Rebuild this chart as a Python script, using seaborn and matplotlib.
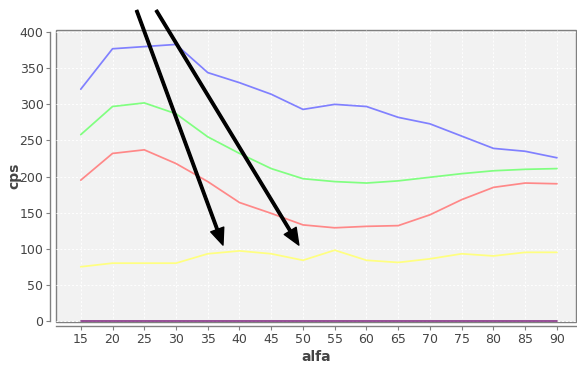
import matplotlib
matplotlib.use("Agg")
import matplotlib.pyplot as plt
import seaborn as sns
import pandas as pd

# Angle values (alfa) and counts per second for each measured series
alfa = [15, 20, 25, 30, 35, 40, 45, 50, 55, 60, 65, 70, 75, 80, 85, 90]
series_blue = [321, 377, 380, 383, 344, 330, 314, 293, 300, 297, 282, 273, 256, 239, 235, 226]
series_green = [258, 297, 302, 287, 255, 232, 211, 197, 193, 191, 194, 199, 204, 208, 210, 211]
series_red = [195, 232, 237, 218, 193, 164, 149, 133, 129, 131, 132, 147, 168, 185, 191, 190]
series_yellow = [75, 80, 80, 80, 93, 97, 93, 84, 98, 84, 81, 86, 93, 90, 95, 95]
series_zero = [0] * 16

series_names = ["A", "B", "C", "D", "E"]
series_colors = ["#8080ff", "#80ff80", "#ff8888", "#ffff80", "#8a3a8a"]

y_ticks = [0, 50, 100, 150, 200, 250, 300, 350, 400]

# Arrow annotations: (start x, start y, tip x, tip y) in data units
arrow_starts = [(23.8, 430), (26.9, 430)]
arrow_tips = [(37.4, 105), (49.35, 105)]

frames = []
for name, vals in zip(series_names,
                      [series_blue, series_green, series_red, series_yellow, series_zero]):
    frames.append(pd.DataFrame({"alfa": alfa, "cps": vals, "series": name}))
df = pd.concat(frames, ignore_index=True)

sns.set_theme(style="white")
plt.rcParams["font.family"] = ["DejaVu Sans"]

fig = plt.figure(figsize=(5.77, 3.65), dpi=100)
ax = fig.add_axes([56 / 577, 43 / 365, 520 / 577, 292 / 365])
ax.set_facecolor("#f2f2f2")
ax.patch.set_edgecolor("#808080")
ax.patch.set_linewidth(1.0)

sns.lineplot(data=df, x="alfa", y="cps", hue="series", hue_order=series_names,
             palette=series_colors, linewidth=1.25, legend=False, ax=ax)

ax.set_xlim(11.1, 93.0)
ax.set_ylim(-1.5, 403)
ax.set_xticks(alfa)
ax.set_yticks(y_ticks)

ax.grid(True, color="white", linestyle=(0, (2, 2)), linewidth=0.7)
ax.set_axisbelow(True)

for side in ["top", "right"]:
    ax.spines[side].set_visible(False)
ax.spines["left"].set_position(("outward", 4))
ax.spines["bottom"].set_position(("outward", 3))
for side in ["left", "bottom"]:
    ax.spines[side].set_color("#808080")
    ax.spines[side].set_linewidth(1.0)
ax.spines["left"].set_bounds(0, 400)

ax.tick_params(axis="both", which="both", direction="out", length=3, width=0.8,
               color="#808080", labelsize=9, labelcolor="#444444",
               left=True, bottom=True, pad=2)

ax.set_xlabel("alfa", fontsize=10, fontweight="bold", color="#444444", labelpad=3)
ax.set_ylabel("cps", fontsize=10, fontweight="bold", color="#444444", labelpad=-1)

for (sx, sy), (tx, ty) in zip(arrow_starts, arrow_tips):
    ax.annotate("", xy=(tx, ty), xytext=(sx, sy), xycoords="data",
                textcoords="data", annotation_clip=False,
                arrowprops=dict(facecolor="black", edgecolor="black", width=1.8,
                                headwidth=10, headlength=12, shrink=0))

fig.savefig("out.png", dpi=100)
